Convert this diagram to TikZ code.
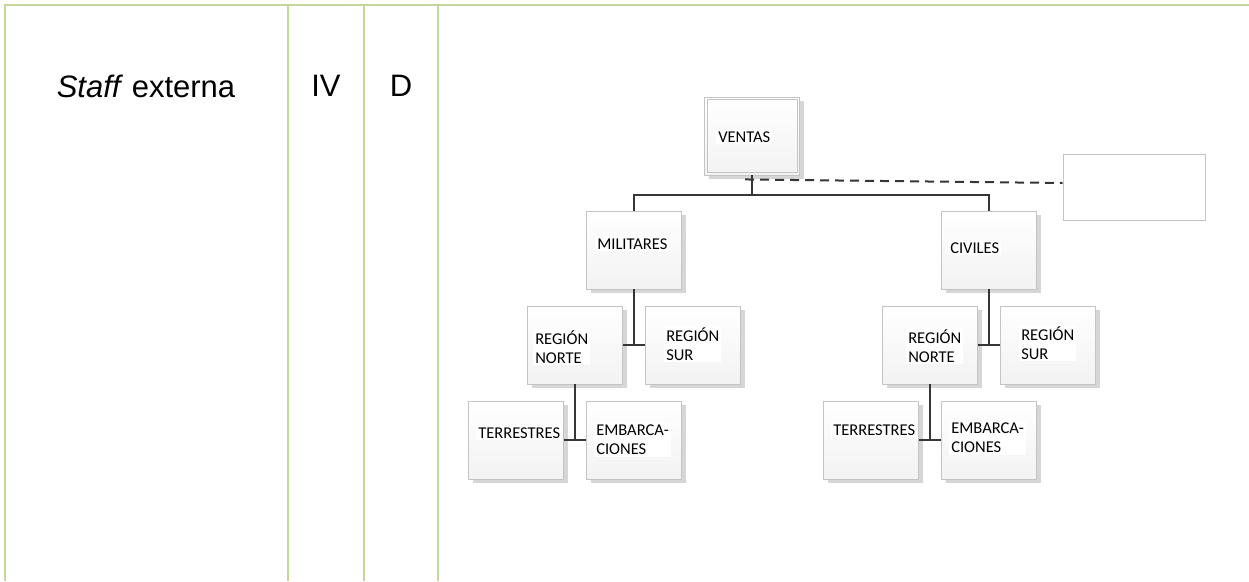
\documentclass[tikz,border=0pt]{standalone}
\usepackage{fontspec}
\setmainfont{Liberation Sans}
\newfontfamily\boxfont{Carlito}
\usetikzlibrary{shadows,positioning}
\definecolor{tablegreen}{HTML}{C3D69B}
\definecolor{boxline}{HTML}{C4C4C4}
\definecolor{linkgray}{HTML}{363636}

\begin{document}
\begin{tikzpicture}[x=1pt,y=-1pt,
	orgbox/.style={draw=boxline,line width=0.9pt,top color=white,bottom color=black!5,
		minimum width=95pt,minimum height=78pt,inner sep=0pt,
		drop shadow={shadow xshift=4pt,shadow yshift=-4pt,fill=black!16,opacity=1}},
	boxtext/.style={anchor=west,fill=white,inner sep=2pt,align=left,
		font=\boxfont\fontsize{16.5}{19}\selectfont},
	link/.style={draw=linkgray,line width=2pt},
	grid/.style={draw=tablegreen,line width=2.8pt}]
\useasboundingbox (0,0) rectangle (1249,581);

% table
\draw[grid] (5,581) -- (5,5) -- (1249,5);
\foreach \x in {288,364,438}
	\draw[grid] (\x,5) -- (\x,581);
\node[font=\fontsize{31}{36}\selectfont] (staff) at (146,86) {\textit{Staff} externa};
\node[font=\fontsize{31}{36}\selectfont] (level) at (326,86) {IV};
\node[font=\fontsize{31}{36}\selectfont] (kind) at (401,86) {D};

% boxes of the chart
\foreach \name/\x/\y/\dx/\dy/\txt in {
		ventas/752/136/12/1/VENTAS,
		mil/634/250/9/-6/MILITARES,
		civ/989/250/7/-2/CIVILES,
		rnL/575/345/6/2/{REGIÓN\\NORTE},
		rsL/693/345/19/-1/{REGIÓN\\SUR},
		terL/516/440/8/-7/TERRESTRES,
		embL/634/440/8/0/{EMBARCA-\\CIONES},
		rnR/930/345/24/1/{REGIÓN\\NORTE},
		rsR/1048/345/19/-2/{REGIÓN\\SUR},
		terR/871/440/8/-10/TERRESTRES,
		embR/989/440/8/-2/{EMBARCA-\\CIONES}} {
	\node[orgbox] (\name) at (\x,\y) {};
	\node[boxtext,xshift=\dx pt,yshift=-\dy pt] (\name T) at (\name.west) {\txt};
}
% double frame of the top box
\draw[boxline,line width=0.9pt] ([shift={(3pt,-3pt)}]ventas.north west) rectangle ([shift={(-3pt,3pt)}]ventas.south east);

\node[draw=boxline,line width=0.9pt,minimum width=142pt,minimum height=66pt] (extra) at (1134,187) {};

% connectors
\coordinate (vj) at (752,195);
\draw[link] (ventas.south) -- (vj);
\draw[link] (mil.north) |- (vj) -| (civ.north);
\draw[link,dash pattern=on 9pt off 6pt] ([xshift=-7pt,yshift=-4pt]ventas.south) -- ([yshift=4pt]extra.west);

\draw[link] (mil.south) -- (mil.south |- rnL.east);
\draw[link] (rnL.east) -- (rsL.west);
\draw[link] (rnL.south) -- (rnL.south |- terL.east);
\draw[link] (terL.east) -- (embL.west);

\draw[link] (civ.south) -- (civ.south |- rnR.east);
\draw[link] (rnR.east) -- (rsR.west);
\draw[link] (rnR.south) -- (rnR.south |- terR.east);
\draw[link] (terR.east) -- (embR.west);
\end{tikzpicture}
\end{document}
